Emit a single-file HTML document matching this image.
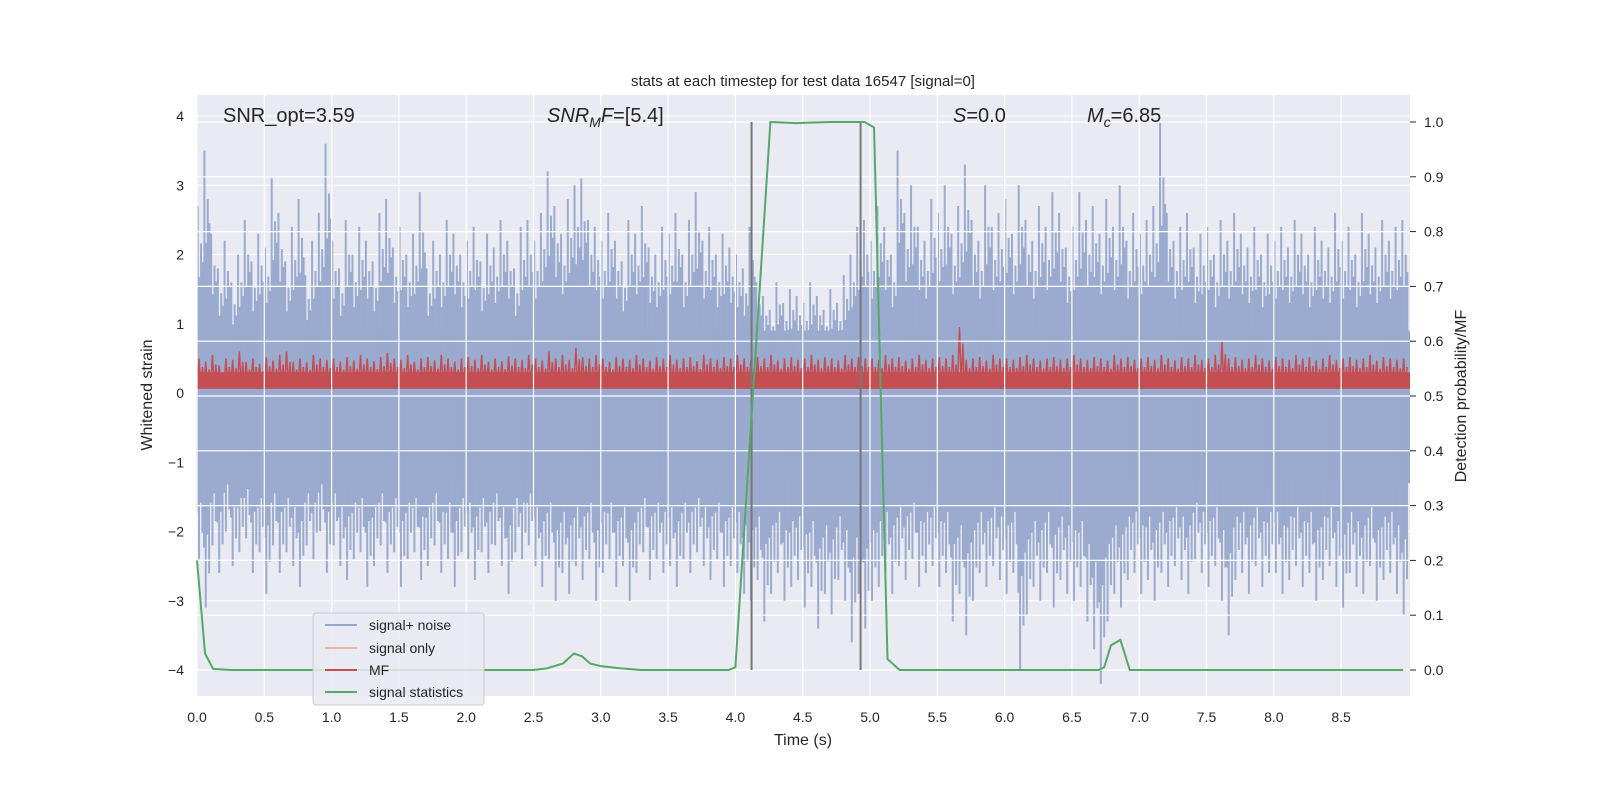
<!DOCTYPE html>
<html><head><meta charset="utf-8"><style>
html,body{margin:0;padding:0;background:#fff;overflow:hidden;width:100%;height:100%;}
svg{display:block;position:fixed;left:0;top:0;width:100vw;height:100vh;}
svg text{font-family:"Liberation Sans","DejaVu Sans",sans-serif;fill:#262626;}
</style></head><body>
<svg id="chart" viewBox="0 0 1600 800" preserveAspectRatio="none" xmlns="http://www.w3.org/2000/svg">
<rect x="197" y="95" width="1213" height="601" fill="#eaeaf2"/>
<g id="gLeftGrid"></g><g id="gNoise"></g><g id="gMF"></g><g id="gRightGrid"></g><g id="gVlines"></g><g id="gGreen"></g><g id="gTicks"></g>
<text x="803" y="86" font-size="15" text-anchor="middle">stats at each timestep for test data 16547 [signal=0]</text>
<text x="803" y="745" font-size="16" text-anchor="middle">Time (s)</text>
<text x="152" y="395" font-size="16" text-anchor="middle" transform="rotate(-90 152 395)">Whitened strain</text>
<text x="1466" y="396" font-size="16" text-anchor="middle" transform="rotate(-90 1466 396)">Detection probability/MF</text>
<text x="223" y="122" font-size="20">SNR_opt=3.59</text>
<text x="547" y="122" font-size="20"><tspan font-style="italic">SNR</tspan><tspan font-style="italic" font-size="14" dy="5">M</tspan><tspan font-style="italic" dy="-5">F</tspan>=[5.4]</text>
<text x="953" y="122" font-size="20"><tspan font-style="italic">S</tspan>=0.0</text>
<text x="1087" y="122" font-size="20"><tspan font-style="italic">M</tspan><tspan font-style="italic" font-size="14" dy="5">c</tspan><tspan dy="-5">=6.85</tspan></text>
<g>
<rect x="313" y="613" width="171" height="92" rx="3" fill="#eaeaf2" fill-opacity="0.85" stroke="#cccccc"/>
<line x1="325" y1="625" x2="357" y2="625" stroke="#92a6cf" stroke-width="2"/>
<text x="369" y="630" font-size="14">signal+ noise</text>
<line x1="325" y1="648" x2="357" y2="648" stroke="#e8b4a0" stroke-width="2"/>
<text x="369" y="653" font-size="14">signal only</text>
<line x1="325" y1="670" x2="357" y2="670" stroke="#c44e52" stroke-width="2"/>
<text x="369" y="675" font-size="14">MF</text>
<line x1="325" y1="692" x2="357" y2="692" stroke="#55a868" stroke-width="2"/>
<text x="369" y="697" font-size="14">signal statistics</text>
</g>
</svg>
<script>
const noiseUp=[2.7,3.5,2.3,1.8,2.2,1.6,2.0,2.5,1.9,2.3, 2.1,3.1,2.6,1.9,2.4,2.8,1.7,2.2,2.6,3.6, 2.2,1.8,2.5,2.0,2.4,2.2,1.9,2.6,2.8,2.1, 2.4,2.0,2.3,2.9,1.8,2.2,2.0,2.5,2.3,2.0, 2.2,2.4,1.9,2.3,2.1,2.5,2.2,1.8,2.4,2.5, 2.2,2.6,3.2,2.7,2.3,2.8,3.0,3.1,2.5,2.4, 2.2,2.6,2.2,1.9,2.5,2.3,2.7,2.1,2.0,2.4, 2.3,2.6,2.0,2.5,2.9,2.2,2.4,2.0,2.3,2.1, 2.0,1.8,2.4,1.6,1.4,1.2,1.6,1.3,1.5,1.4, 1.3,1.6,1.4,1.2,1.5,1.3,1.7,2.0,2.4,2.5, 2.2,2.7,2.4,2.0,3.5,2.6,3.0,2.4,2.2,2.8, 2.6,3.0,2.3,2.7,3.3,2.5,2.2,3.0,2.4,2.6, 2.8,2.3,3.0,2.5,2.2,2.7,2.4,2.9,2.6,2.1, 2.4,2.9,2.5,2.7,2.3,2.8,2.4,3.0,2.2,2.6, 2.3,2.5,2.7,3.9,2.6,2.2,2.4,2.6,2.1,2.3, 2.4,2.0,2.5,2.2,2.6,2.3,2.1,2.4,2.0,2.3, 2.2,2.4,2.1,2.5,2.3,2.0,2.4,2.2,2.1,2.6, 2.2,2.4,2.0,2.6,2.3,2.1,2.5,2.2,2.4,2.5];
const noiseDown=[-2.4,-3.1,-2.2,-2.6,-2.0,-2.5,-2.3,-2.1,-2.6,-2.3, -2.9,-2.2,-2.6,-2.3,-2.5,-2.8,-2.2,-2.4,-2.0,-2.6, -2.2,-2.5,-2.7,-2.4,-2.3,-2.8,-2.5,-2.2,-2.6,-2.3, -2.8,-2.4,-2.3,-2.7,-2.5,-2.2,-2.6,-2.4,-2.8,-2.3, -2.4,-2.7,-2.3,-2.6,-2.2,-2.5,-2.9,-2.3,-2.4,-2.2, -2.5,-2.8,-2.4,-3.0,-2.6,-2.9,-2.5,-2.7,-2.4,-3.0, -2.6,-2.4,-2.8,-2.5,-3.0,-2.6,-2.3,-2.7,-2.4,-2.6, -2.5,-2.8,-2.4,-2.6,-2.3,-2.5,-2.7,-2.4,-2.8,-2.5, -2.6,-2.9,-3.0,-2.7,-3.3,-2.9,-2.6,-3.0,-2.8,-2.7, -3.1,-2.8,-3.4,-2.9,-3.2,-2.7,-3.0,-3.6,-2.9,-3.4, -3.0,-2.8,-2.6,-2.9,-2.5,-2.7,-2.4,-2.8,-2.6,-2.5, -2.8,-2.6,-3.3,-2.9,-3.5,-3.0,-2.6,-2.8,-2.5,-2.7, -2.9,-2.6,-4.0,-3.2,-2.8,-3.0,-2.6,-3.1,-2.7,-2.9, -3.0,-2.8,-3.3,-3.7,-4.2,-3.3,-2.9,-3.1,-2.7,-2.6, -2.9,-2.7,-3.0,-2.6,-2.8,-2.5,-2.7,-2.9,-2.4,-2.6, -2.8,-2.5,-3.0,-3.5,-2.7,-2.6,-2.9,-2.5,-2.8,-2.6, -2.6,-2.9,-2.7,-2.5,-2.8,-2.6,-3.0,-2.7,-2.5,-2.8, -3.1,-2.6,-2.8,-2.9,-2.5,-3.0,-2.7,-2.6,-2.9,-3.2];
const mfPeaks=[0.5,0.45,0.55,0.4,0.5,0.48,0.6,0.45,0.5,0.42, 0.52,0.47,0.55,0.6,0.45,0.5,0.44,0.55,0.5,0.48, 0.5,0.45,0.52,0.47,0.55,0.5,0.46,0.52,0.58,0.5, 0.48,0.55,0.45,0.5,0.52,0.47,0.55,0.5,0.45,0.5, 0.52,0.48,0.55,0.45,0.5,0.46,0.53,0.5,0.48,0.55, 0.5,0.47,0.6,0.5,0.55,0.48,0.65,0.52,0.5,0.55, 0.5,0.45,0.52,0.5,0.48,0.55,0.5,0.47,0.52,0.5, 0.55,0.48,0.5,0.52,0.46,0.55,0.5,0.48,0.52,0.5, 0.55,0.5,0.48,0.52,0.5,0.55,0.47,0.5,0.52,0.48, 0.5,0.55,0.48,0.52,0.5,0.47,0.55,0.5,0.52,0.5, 0.5,0.48,0.55,0.5,0.52,0.47,0.5,0.55,0.48,0.5, 0.52,0.5,0.55,0.95,0.48,0.5,0.52,0.47,0.55,0.5, 0.5,0.48,0.52,0.55,0.5,0.47,0.5,0.52,0.48,0.5, 0.55,0.5,0.48,0.52,0.5,0.47,0.55,0.5,0.52,0.48, 0.5,0.52,0.48,0.55,0.5,0.47,0.52,0.5,0.55,0.48, 0.5,0.55,0.75,0.5,0.52,0.48,0.5,0.55,0.5,0.47, 0.52,0.5,0.48,0.55,0.5,0.52,0.47,0.5,0.55,0.48, 0.5,0.52,0.48,0.5,0.55,0.47,0.52,0.5,0.48,0.5];
const statT=[0,0.06,0.12,0.25,2.5,2.6,2.72,2.8,2.86,2.92,3.0,3.15,3.3,3.95,4.0,4.26,4.45,4.7,4.96,5.03,5.13,5.22,6.7,6.74,6.79,6.86,6.93,8.96];
const statV=[0.2,0.03,0.002,0,0,0.003,0.012,0.03,0.025,0.012,0.007,0.003,0,0,0.005,1.0,0.998,1.0,1.0,0.99,0.02,0,0,0.005,0.045,0.055,0,0];
const markerT=[4.12,4.93];
const xTicks=[0,0.5,1,1.5,2,2.5,3,3.5,4,4.5,5,5.5,6,6.5,7,7.5,8,8.5];
const yLeftTicks=[-4,-3,-2,-1,0,1,2,3,4];
const yRightTicks=[0,0.1,0.2,0.3,0.4,0.5,0.6,0.7,0.8,0.9,1.0];
const NS="http://www.w3.org/2000/svg";
const X0=197,X1=1410,Y0=95,Y1=696;
const xs=t=>197+t*134.6;
const yl=v=>393-v*69.25;
const yr=v=>670-v*548;
function mk(tag,parent,attrs){const e=document.createElementNS(NS,tag);for(const k in attrs)e.setAttribute(k,attrs[k]);document.getElementById(parent).appendChild(e);return e;}
yLeftTicks.forEach(v=>{const l=mk('line','gLeftGrid',{x1:X0,x2:X1,y1:yl(v),y2:yl(v),stroke:'#fff','stroke-width':1});

});
const band=mk('rect','gNoise',{x:X0,y:yl(0.9),width:X1-X0,height:yl(-1.3)-yl(0.9),fill:'#9aabcf'});


const bw=0.05;
const fac=[1,0.62,0.8,0.7];
noiseUp.forEach((v,i)=>{const t=i*bw;
fac.forEach((f,k)=>{const tt=t+bw*(k*0.25+0.1);
const l=mk('line','gNoise',{x1:xs(tt),x2:xs(tt),y1:yl(0),y2:yl(v*f),stroke:'#9aabcf','stroke-width':2});

});});
noiseDown.forEach((v,i)=>{const t=i*bw;
[0.72,1,0.66,0.84].forEach((f,k)=>{const tt=t+bw*(k*0.25+0.05);
const l=mk('line','gNoise',{x1:xs(tt),x2:xs(tt),y1:yl(0),y2:yl(v*f),stroke:'#9aabcf','stroke-width':2});

});});
const mfb=mk('rect','gMF',{x:X0,y:yl(0.3),width:X1-X0,height:yl(0.06)-yl(0.3),fill:'#c44e52'});


let d='';mfPeaks.forEach((v,i)=>{const t=i*bw;d+=(i?'L':'M')+xs(t)+' '+yl(0.08)+'L'+xs(t+bw*0.3)+' '+yl(v)+'L'+xs(t+bw*0.55)+' '+yl(0.1)+'L'+xs(t+bw*0.8)+' '+yl(v*0.75);});
const mfl=mk('path','gMF',{d:d,fill:'none',stroke:'#c44e52','stroke-width':1.5});


yRightTicks.forEach(v=>{const l=mk('line','gRightGrid',{x1:X0,x2:X1,y1:yr(v),y2:yr(v),stroke:'#fff','stroke-width':1.2});

});
xTicks.forEach(t=>{const l=mk('line','gRightGrid',{x1:xs(t),x2:xs(t),y1:Y0,y2:Y1,stroke:'#fff','stroke-width':1.2});

});
markerT.forEach(t=>{const l=mk('line','gVlines',{x1:xs(t),x2:xs(t),y1:yr(1),y2:yr(0),stroke:'#777','stroke-width':2});

});
const gp=statT.map((t,i)=>(i?'L':'M')+xs(t)+' '+yr(statV[i])).join('');
const g=mk('path','gGreen',{d:gp,fill:'none',stroke:'#55a868','stroke-width':2});


xTicks.forEach(t=>{const tx=mk('text','gTicks',{x:xs(t),y:722,'font-size':14,'text-anchor':'middle'});tx.textContent=t.toFixed(1);

});
yLeftTicks.forEach(v=>{const tx=mk('text','gTicks',{x:184,y:yl(v)+5,'font-size':14,'text-anchor':'end'});tx.textContent=(v<0?'\u2212'+(-v):''+v);

});
yRightTicks.forEach(v=>{const tx=mk('text','gTicks',{x:1424,y:yr(v)+5,'font-size':14});tx.textContent=v.toFixed(1);


const tk=mk('line','gTicks',{x1:1410,x2:1416,y1:yr(v),y2:yr(v),stroke:'#262626','stroke-width':1});

});
</script>
</body></html>
